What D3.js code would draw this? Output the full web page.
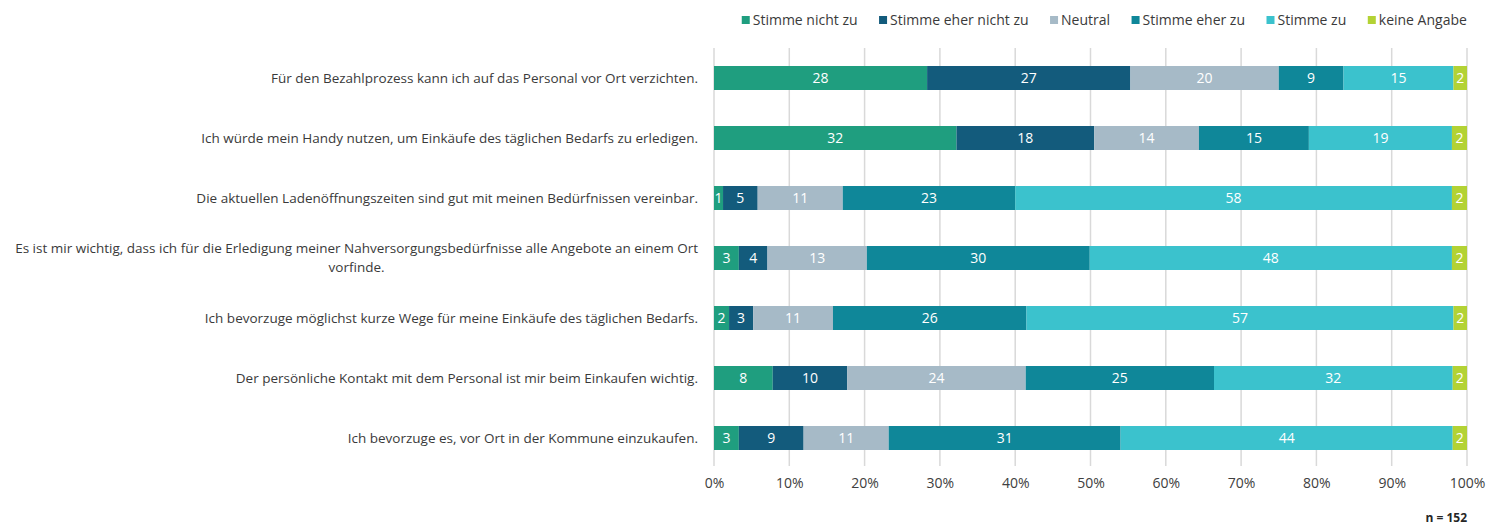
<!DOCTYPE html>
<html>
<head>
<meta charset="utf-8">
<script src="https://cdn.jsdelivr.net/npm/d3@7/dist/d3.min.js"></script>
<style>
  html, body { margin: 0; padding: 0; background: #fff; }
  svg { display: block; font-family: "Open Sans", sans-serif; }
</style>
</head>
<body>
<svg id="chart" width="1500" height="526"></svg>
<script>
// ---- Data ----
const categories = [
  "Für den Bezahlprozess kann ich auf das Personal vor Ort verzichten.",
  "Ich würde mein Handy nutzen, um Einkäufe des täglichen Bedarfs zu erledigen.",
  "Die aktuellen Ladenöffnungszeiten sind gut mit meinen Bedürfnissen vereinbar.",
  "Es ist mir wichtig, dass ich für die Erledigung meiner Nahversorgungsbedürfnisse alle Angebote an einem Ort vorfinde.",
  "Ich bevorzuge möglichst kurze Wege für meine Einkäufe des täglichen Bedarfs.",
  "Der persönliche Kontakt mit dem Personal ist mir beim Einkaufen wichtig.",
  "Ich bevorzuge es, vor Ort in der Kommune einzukaufen."
];
const seriesNames = ["Stimme nicht zu", "Stimme eher nicht zu", "Neutral", "Stimme eher zu", "Stimme zu", "keine Angabe"];
// percentages per series, one value per category (in order above)
const stimmeNichtZu     = [28.3, 32.2,  1.2,  3.3,  2.0,  7.8,  3.3];
const stimmeEherNichtZu = [27.0, 18.3,  4.6,  3.8,  3.2,  9.9,  8.6];
const neutral           = [19.7, 13.9, 11.3, 13.2, 10.6, 23.7, 11.3];
const stimmeEherZu      = [ 8.6, 14.6, 22.9, 29.6, 25.7, 25.0, 30.8];
const stimmeZu          = [14.6, 19.0, 58.0, 48.1, 56.7, 31.7, 44.1];
const keineAngabe       = [ 1.8,  2.0,  2.0,  2.0,  1.8,  1.9,  1.9];
const tickValues = [0, 0.1, 0.2, 0.3, 0.4, 0.5, 0.6, 0.7, 0.8, 0.9, 1.0];
const sampleNote = "n = 152";
const colors = ["#1f9e7f", "#135b7c", "#a6bac7", "#0f8799", "#3bc2cd", "#b3d234"];

const seriesValues = [stimmeNichtZu, stimmeEherNichtZu, neutral, stimmeEherZu, stimmeZu, keineAngabe];
const rows = categories.map((c, i) => {
  const o = { category: c };
  seriesNames.forEach((s, j) => { o[s] = seriesValues[j][i]; });
  return o;
});

// ---- Layout ----
const svg = d3.select("#chart");
const x0 = 714, x1 = 1467, yTop = 48, yBottom = 468;
const x = d3.scaleLinear().domain([0, 1]).range([x0, x1]);
const y = d3.scaleBand().domain(categories).range([yTop, yBottom]).paddingInner(0.6).paddingOuter(0.3);
const color = d3.scaleOrdinal().domain(seriesNames).range(colors);

const stack = d3.stack().keys(seriesNames).offset(d3.stackOffsetExpand);
const stacked = stack(rows);

// gridlines
svg.append("g").selectAll("line").data(tickValues).join("line")
  .attr("x1", d => x(d)).attr("x2", d => x(d))
  .attr("y1", yTop).attr("y2", yBottom - 2)
  .attr("stroke", "#d9d9d9").attr("stroke-width", 1.5);

// tick labels via axis
const axis = d3.axisBottom(x).tickValues(tickValues).tickFormat(d3.format(".0%")).tickSize(0).tickPadding(0);
const ax = svg.append("g").attr("transform", `translate(0, 478)`).call(axis);
ax.select(".domain").remove();
ax.selectAll("text").attr("font-size", 14).attr("fill", "#404040").attr("font-family", "Open Sans, sans-serif").attr("dy", "0.71em");

// bars
const layers = svg.append("g").selectAll("g").data(stacked).join("g").attr("fill", d => color(d.key));
layers.selectAll("rect").data(d => d.map(p => ({ p, key: d.key }))).join("rect")
  .attr("x", d => x(d.p[0]))
  .attr("y", d => y(d.p.data.category))
  .attr("width", d => x(d.p[1]) - x(d.p[0]))
  .attr("height", y.bandwidth());

// value labels
layers.selectAll("text").data(d => d.map(p => ({ p, key: d.key }))).join("text")
  .attr("x", d => (x(d.p[0]) + x(d.p[1])) / 2)
  .attr("y", d => y(d.p.data.category) + y.bandwidth() / 2)
  .attr("dy", "0.36em")
  .attr("text-anchor", "middle")
  .attr("font-size", 14)
  .attr("fill", "#ffffff")
  .text(d => Math.round(d.p.data[d.key]));

// category labels (wrapped, centered block right-aligned)
const labelRight = 698, maxW = 692;
const catG = svg.append("g");
categories.forEach(cat => {
  const t = catG.append("text").attr("font-size", 13.5).attr("fill", "#3a3a3a");
  const words = cat.split(" ");
  const lines = [];
  let line = [];
  const probe = t.append("tspan");
  words.forEach(w => {
    const test = line.concat([w]).join(" ");
    probe.text(test);
    if (probe.node().getComputedTextLength() > maxW && line.length) {
      lines.push(line.join(" "));
      line = [w];
    } else {
      line.push(w);
    }
  });
  lines.push(line.join(" "));
  probe.remove();
  const widths = lines.map(l => { const s = t.append("tspan").text(l); const w = s.node().getComputedTextLength(); s.remove(); return w; });
  const wMax = d3.max(widths);
  const cy = y(cat) + y.bandwidth() / 2;
  const lh = 19;
  const startY = cy - (lines.length - 1) * lh / 2;
  lines.forEach((l, i) => {
    t.append("tspan")
      .attr("x", lines.length > 1 ? labelRight - wMax / 2 : labelRight)
      .attr("text-anchor", lines.length > 1 ? "middle" : "end")
      .attr("y", startY + i * lh)
      .attr("dy", "0.36em")
      .text(l);
  });
});

// legend (right-aligned to x1)
const leg = svg.append("g");
const items = leg.selectAll("g").data(seriesNames).join("g");
items.append("rect").attr("width", 8).attr("height", 8).attr("y", 16).attr("fill", d => color(d));
items.append("text").attr("x", 11).attr("y", 20).attr("dy", "0.36em")
  .attr("font-size", 14).attr("fill", "#3a3a3a").text(d => d);
const gap = 21.5;
const widthsLeg = [];
items.each(function () { widthsLeg.push(this.getBBox().width); });
let total = d3.sum(widthsLeg) + gap * (widthsLeg.length - 1);
let cx = x1 - total;
items.attr("transform", (d, i) => { const tx = cx; cx += widthsLeg[i] + gap; return `translate(${tx},0)`; });

// sample size note
svg.append("text").attr("x", x1).attr("y", 522).attr("text-anchor", "end")
  .attr("font-size", 12).attr("font-weight", "bold").attr("fill", "#262626").text(sampleNote);
</script>
</body>
</html>
